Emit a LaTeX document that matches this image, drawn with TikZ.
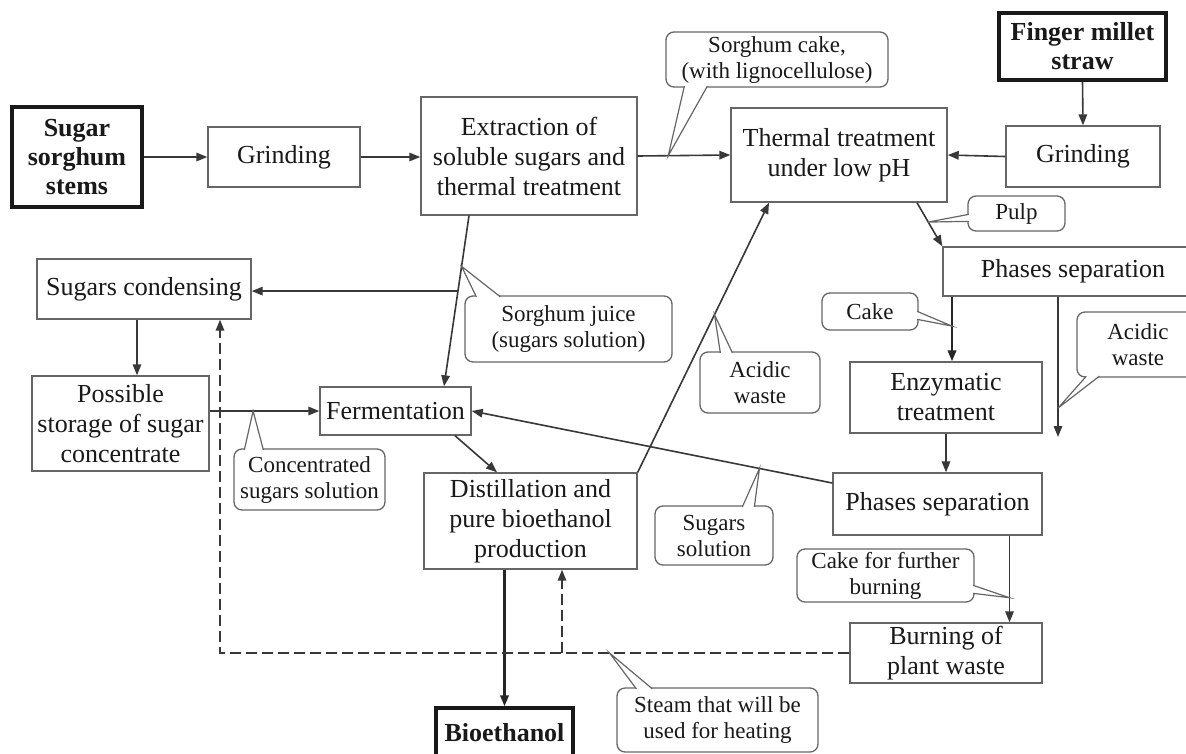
\documentclass[tikz,border=0pt]{standalone}
\usepackage{fontspec}
\setmainfont{Liberation Serif}
\usetikzlibrary{arrows.meta,calc}
\begin{document}
\begin{tikzpicture}[x=1pt,y=-1pt,
  box/.style={draw=black!60, line width=1.4pt, fill=white, align=center, inner sep=0pt,
    font=\fontsize{26}{30}\selectfont, text=black!90},
  thickbox/.style={box, draw=black!90, line width=3.5pt, font=\fontsize{26}{29}\selectfont\bfseries},
  callout/.style={draw=black!60, line width=1.3pt, rounded corners=8pt, fill=white, align=center,
    inner sep=0pt, font=\fontsize{23}{26}\selectfont, text=black!90},
  arr/.style={draw=black!78, line width=1.6pt, -{Triangle[length=11pt,width=8.5pt]}},
  heavyarr/.style={arr, draw=black!85, line width=2.4pt},
  dasharr/.style={arr, dash pattern=on 11pt off 5pt},
  ptr/.style={draw=black!60, line width=1.2pt, fill=white},
]
\useasboundingbox (0,0) rectangle (1186,753);
\fill[white] (0,0) rectangle (1186,753);
\clip (0,0) rectangle (1186,753);

% process boxes
\node[thickbox, minimum width=130, minimum height=100] (sugar) at (77,157) {Sugar\\sorghum\\stems};
\node[box, minimum width=152, minimum height=60] (grind1) at (284,157) {Grinding};
\node[box, minimum width=216, minimum height=118] (extr) at (529,156) {Extraction of\\soluble sugars and\\thermal treatment};
\node[box, minimum width=216, minimum height=94] (therm) at (839,155) {Thermal treatment\\under low pH};
\node[thickbox, minimum width=167, minimum height=67] (finger) at (1082.5,46.5) {Finger millet\\straw};
\node[box, minimum width=154, minimum height=61] (grind2) at (1083,156.5) {Grinding};
\node[box, minimum width=260, minimum height=49] (phase1) at (1073,271.5) {Phases separation};
\node[box, minimum width=192, minimum height=71] (enz) at (946,397.5) {Enzymatic\\treatment};
\node[box, minimum width=209, minimum height=62] (phase2) at (937.5,504) {Phases separation};
\node[box, minimum width=192, minimum height=60] (burn) at (946,653) {Burning of\\plant waste};
\node[box, minimum width=214, minimum height=60] (cond) at (144,289) {Sugars condensing};
\node[box, minimum width=177, minimum height=95] (store) at (120.5,423.5) {Possible\\storage of sugar\\concentrate};
\node[box, minimum width=151, minimum height=48] (ferm) at (395.5,411) {Fermentation};
\node[box, minimum width=213, minimum height=96] (dist) at (530.5,521) {Distillation and\\pure bioethanol\\production};
\node[thickbox, minimum width=137, minimum height=50] (bio) at (504.5,733) {Bioethanol};

% connectors
\draw[arr] (sugar.east) -- (grind1.west |- sugar.east);
\draw[arr] (grind1.east) -- (extr.west |- grind1.east);
\draw[arr] (extr.east) -- (therm.west);
\draw[arr] (finger.south) -- (grind2.north);
\draw[arr] (grind2.west) -- (therm.east);
\coordinate (p1s) at ([xshift=78pt]therm.south);
\draw[arr] (p1s) -- (phase1.north west);
\coordinate (e2a) at ([xshift=6pt]enz.north |- phase1.south);
\coordinate (e2b) at ([xshift=6pt]enz.north);
\draw[heavyarr] (e2a) -- (e2b);
\coordinate (wend) at (1058,437);
\coordinate (wstart) at (phase1.south -| wend);
\draw[arr] (wstart) -- (wend);
\draw[arr] (enz.south) -- (phase2.north -| enz.south);
\coordinate (b1) at ([xshift=72pt]phase2.south);
\coordinate (b2) at (b1 |- burn.north);
\draw[arr] (b1) -- (b2);
\coordinate (s1) at ([yshift=21pt]phase2.west);
\draw[arr] (s1) -- (ferm.east);
\coordinate (e1) at ([xshift=-60pt]extr.south);
\coordinate (f1) at ([xshift=48.5pt]ferm.north);
\draw[arr] (e1) -- (f1);
\coordinate (jx) at ($(e1)!0.442!(f1)$);
\draw[arr] (jx) -- (jx -| cond.east);
\coordinate (c1) at ([xshift=-7pt]cond.south);
\draw[arr] (c1) -- (c1 |- store.north);
\coordinate (st1) at (store.east |- ferm.west);
\draw[arr] (st1) -- (ferm.west);
\coordinate (fd1) at ([xshift=59.5pt]ferm.south);
\coordinate (fd2) at ([xshift=-33.5pt]dist.north);
\draw[arr] (fd1) -- (fd2);
\coordinate (db1) at (bio.north |- dist.south);
\draw[heavyarr] (db1) -- (bio.north);
\coordinate (ac2) at ([xshift=-70pt]therm.south);
\draw[arr] (dist.north east) -- (ac2);
\coordinate (dc) at ([xshift=76pt]cond.south);
\coordinate (dcorner) at (dc |- burn.west);
\draw[dasharr] (burn.west) -- (dcorner) -- (dc);
\coordinate (dd2) at ([xshift=31.5pt]dist.south);
\coordinate (dd1) at (dd2 |- burn.west);
\draw[dasharr] (dd1) -- (dd2);

% pointer tips on connectors
\coordinate (tA) at ($(extr.east)!0.33!(therm.west)$);
\coordinate (tB) at ($(p1s)!0.444!(phase1.north west)$);
\coordinate (tC) at ($(e1)!0.297!(f1)$);
\coordinate (tD) at ($(dist.north east)!0.585!(ac2)$);
\coordinate (tE) at ($(e2a)!0.455!(e2b)$);
\coordinate (tF) at ($(wstart)!0.794!(wend)$);
\coordinate (tG) at ($(st1)!0.396!(ferm.west)$);
\coordinate (tH) at ($(s1)!0.202!(ferm.east)$);
\coordinate (tI) at ($(b1)!0.716!(b2)$);
\coordinate (tJ) at ($(burn.west)!0.381!(dcorner)$);

% callouts
\node[callout, minimum width=222, minimum height=55] (cakeS) at (777,59.5) {Sorghum cake,\\(with lignocellulose)};
\node[callout, minimum width=97, minimum height=35] (pulp) at (1016.5,213.5) {Pulp};
\node[callout, minimum width=207, minimum height=66] (juice) at (568.5,329) {Sorghum juice\\(sugars solution)};
\node[callout, minimum width=120, minimum height=61] (acid1) at (760,382.5) {Acidic\\waste};
\node[callout, minimum width=96, minimum height=37] (cake) at (870,311.5) {Cake};
\node[callout, minimum width=122, minimum height=65] (acid2) at (1138,344.5) {Acidic\\waste};
\node[callout, minimum width=151, minimum height=61] (conc) at (309.5,479.5) {Concentrated\\sugars solution};
\node[callout, minimum width=118, minimum height=59] (sugsol) at (714,535.5) {Sugars\\solution};
\node[callout, minimum width=177, minimum height=53] (cakeburn) at (885.5,575.5) {Cake for further\\burning};
\node[callout, minimum width=201, minimum height=64] (steam) at (717.5,720) {Steam that will be\\used for heating};

% callout pointers
\filldraw[ptr] ($(cakeS.south west)+(19,-1.5)$) -- (tA) -- ($(cakeS.south west)+(42,-1.5)$);
\filldraw[ptr] ($(pulp.north west)+(1.5,19)$) -- (tB) -- ($(pulp.north west)+(1.5,26)$);
\filldraw[ptr] ($(juice.north west)+(12,1.5)$) -- (tC) -- ($(juice.north west)+(36,1.5)$);
\filldraw[ptr] ($(acid1.north west)+(21,1.5)$) -- (tD) -- ($(acid1.north west)+(33,1.5)$);
\filldraw[ptr] ($(cake.north east)+(-1.5,19)$) -- (tE) -- ($(cake.north east)+(-1.5,27)$);
\filldraw[ptr] ($(acid2.south west)+(10,-1.5)$) -- (tF) -- ($(acid2.south west)+(23,-1.5)$);
\filldraw[ptr] ($(conc.north west)+(11,1.5)$) -- (tG) -- ($(conc.north west)+(30,1.5)$);
\filldraw[ptr] ($(sugsol.north west)+(88,1.5)$) -- (tH) -- ($(sugsol.north west)+(100,1.5)$);
\filldraw[ptr] ($(cakeburn.north east)+(-1.5,37)$) -- (tI) -- ($(cakeburn.north east)+(-1.5,45)$);
\filldraw[ptr] ($(steam.north west)+(20,1.5)$) -- (tJ) -- ($(steam.north west)+(36,1.5)$);
\end{tikzpicture}
\end{document}
